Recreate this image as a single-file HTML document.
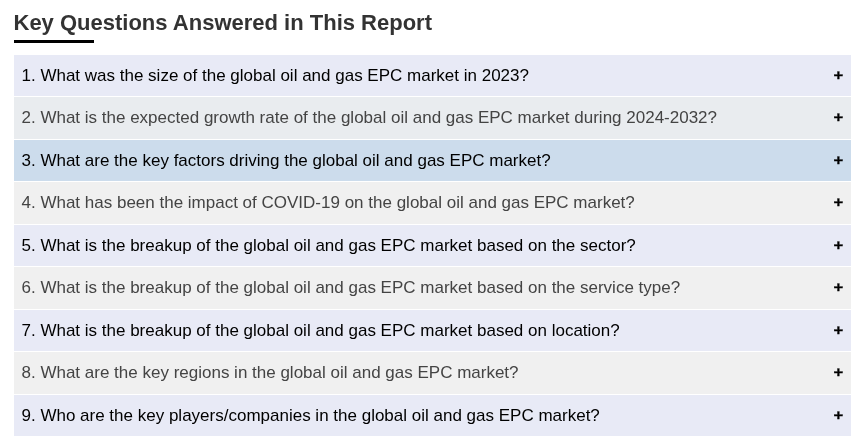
<!DOCTYPE html>
<html><head><meta charset="utf-8">
<style>
html,body{margin:0;padding:0;background:#fff;}
body{width:857px;height:439px;overflow:hidden;font-family:"Liberation Sans",Arial,sans-serif;position:relative;}
h2{position:absolute;left:13.5px;top:10px;margin:0;font-size:22px;font-weight:bold;color:#333;line-height:26px;white-space:nowrap;}
.ul{position:absolute;left:14px;top:40px;width:80px;height:3px;background:#000;}
.row{position:absolute;left:14px;width:837px;height:41px;box-sizing:border-box;}
.row span.q{position:absolute;left:7.5px;top:0;line-height:41px;font-size:17px;white-space:nowrap;}
.row span.p{position:absolute;right:8px;top:-1px;line-height:41px;font-size:16px;font-weight:bold;color:#000;-webkit-text-stroke:0.3px #000;transform:translate(-0.4px,0.25px) scale(1.04,0.96);}
.a{background:#e8eaf6;color:#000;}
.b{background:#e9ecef;color:#444;}
.c{background:#ccdcec;color:#000;}
.d{background:#f0f0f0;color:#444;}
</style></head><body>
<h2>Key Questions Answered in This Report</h2>
<div class="ul"></div>
<div class="row a" style="top:55px"><span class="q">1. What was the size of the global oil and gas EPC market in 2023?</span><span class="p">+</span></div>
<div class="row b" style="top:97px;height:42px"><span class="q">2. What is the expected growth rate of the global oil and gas EPC market during 2024-2032?</span><span class="p">+</span></div>
<div class="row c" style="top:140px"><span class="q">3. What are the key factors driving the global oil and gas EPC market?</span><span class="p">+</span></div>
<div class="row d" style="top:182px;height:42px"><span class="q">4. What has been the impact of COVID-19 on the global oil and gas EPC market?</span><span class="p">+</span></div>
<div class="row a" style="top:225px"><span class="q">5. What is the breakup of the global oil and gas EPC market based on the sector?</span><span class="p">+</span></div>
<div class="row d" style="top:267px;height:42px"><span class="q">6. What is the breakup of the global oil and gas EPC market based on the service type?</span><span class="p">+</span></div>
<div class="row a" style="top:310px"><span class="q">7. What is the breakup of the global oil and gas EPC market based on location?</span><span class="p">+</span></div>
<div class="row d" style="top:352px;height:42px"><span class="q">8. What are the key regions in the global oil and gas EPC market?</span><span class="p">+</span></div>
<div class="row a" style="top:395px"><span class="q">9. Who are the key players/companies in the global oil and gas EPC market?</span><span class="p">+</span></div>
</body></html>
